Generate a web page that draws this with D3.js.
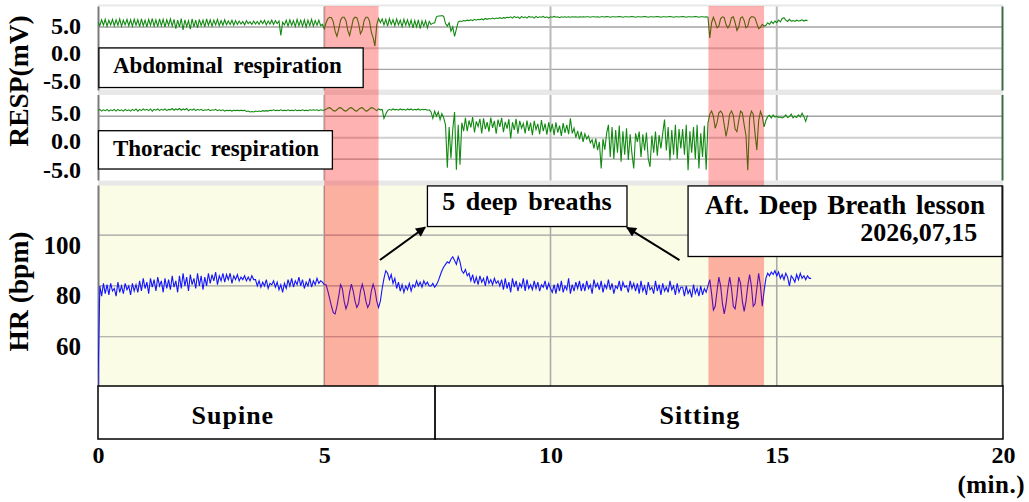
<!DOCTYPE html>
<html><head><meta charset="utf-8">
<script src="https://cdn.jsdelivr.net/npm/d3@7"></script>
<style>
html,body{margin:0;padding:0;background:#fff;font-family:"Liberation Serif";}
svg{display:block;font-family:"Liberation Serif";}
svg text{font-family:"Liberation Serif" !important;font-weight:bold;}
</style></head><body>
<svg id="chart" width="1029" height="502" font-family="Liberation Serif"></svg>
<script>
// ---------------- DATA ----------------
const STEP_MIN = 0.04; // sampling interval of the traces (minutes)

const hrValues = [
41,
80,76,81,77,80.5,76.5,81,78,79,76,81.5,77.5,80,77,81,78.5,80,76.5,81,78,80.5,77.5,
82,78,83,79,81.5,77,83,79.5,82.5,78,83.5,80,82,77.5,83,79,82.5,78.5,84,79.5,82,77.5,
84,79,85,80,83.5,78,84.5,80.5,83,79,85,80,84,78.5,83.5,80,
85,81,84.5,82,85.5,80.5,84,82,85,81.5,84.5,82.5,85,81,84,82.5,84.5,82,83.5,82.5,84,82,83.5,82,84,82.5,
82.5,80,82,79.5,81.5,80,82.5,79,81,80.5,82,79.5,81.5,78.5,80.5,77.5,
81,79,82.5,80,83,79.5,82,80.5,83.5,80,82.5,79,81.5,80,83,79.5,82,80.5,83,81,82,
81.5,
80.5,80.5,78,75,72,69.5,69,72,76,80.5,79,74,71,73,77.5,80.7,78,74,71.5,73,78,80.7,78,74,71.5,73,78,80.7,78.5,74,71.5,74,79,83,86,85,
82.5,84.5,81,83,
79,81.5,78,80.5,77.5,80,78.5,81,78,80.5,79.5,82,80,81.5,79.5,82,80.5,81.5,80,
80,81,79.5,80.5,
82,84,86,87.5,88.5,89.5,89,90.5,91.5,90,88.5,91.5,89.5,86,85,86.5,84,85,
82,84.5,81,83.5,80.5,84,81.5,83,80,84,81,82.5,80.5,83,81,82,80,
82.5,78.5,83,79,81.5,77.5,83,79.5,82,78,81,79.5,83,78,82.5,79,80.5,78.5,82,79,81.5,78,80.5,79.5,82,78.5,81,79,
77.5,80.5,77,81,78,82,77.5,80,78.5,83,77,80.5,78,81.5,79,82,78,
81,78,82,79,80.5,77,82.5,79.5,81,78.5,82,77.5,80.5,79,82.5,78.5,81,77,80,79,82,78,81.5,79.5,80,77.5,82,79,81,78,
81,77,82,78,80,76.5,81.5,78.5,79.5,77,82,78,80.5,76.5,81,78,79.5,77.5,82,78.5,80,76.5,81,77.5,79.5,
79.5,76,80,77,78.5,75.5,80.5,77,79,76,80,76.5,79,77.5,
80,82.5,77,70.5,72,78,83.5,80,73,69,73,79,83.5,79,72,71,76,83.5,81,74,70,74,80,84.5,80,72,73,79,85,80,72,78,
83,85,84,85.5,84.5,86,
84,85.5,83,84.5,82.5,85,83.5,80,84,83,81.5,84.5,82.5,85,83,84,82.5,84,83,83
];

const abdValues = [
6.2,5.3,6.7,5.4,6.8,5.2,6.6,5.5,6.8,5.3,6.7,5.4,6.9,5.2,6.6,5.5,6.8,5.3,6.7,5.2,6.8,
5.4,6.7,5.1,6.9,5.3,6.6,5.0,6.8,5.4,7.0,5.2,6.7,5.1,6.9,5.3,6.8,5.0,6.7,5.4,6.9,5.2,
6.8,4.6,6.6,5.0,7.0,4.3,6.7,5.1,6.5,4.5,6.9,5.0,6.6,4.8,
6.8,5.3,6.6,5.0,6.9,5.4,6.7,5.2,6.6,5.5,6.8,5.3,6.5,5.4,6.7,5.5,6.4,5.6,6.6,5.4,6.5,
5.6,6.4,5.7,6.3,5.5,6.5,5.8,6.2,5.6,6.4,5.7,6.3,5.6,6.5,5.8,6.6,5.5,6.4,5.7,6.6,5.6,6.5,5.8,6.4,
3.0,6.1,
5.5,6.6,5.2,6.7,5.4,6.5,5.1,6.8,5.3,6.6,5.2,6.7,5.0,6.6,5.3,6.8,5.2,6.5,5.4,6.6,5.3,5.6,
4.6,6.0,7.0,7.3,7.2,6.2,4.0,2.8,4.5,6.6,7.3,7.3,6.5,4.2,3.0,4.8,6.8,7.3,7.2,5.8,3.4,4.2,6.5,7.3,7.3,6.4,3.8,2.5,0.5,5.5,7.0,
6.0,6.9,5.5,6.8,5.2,7.0,5.6,6.7,5.3,6.9,5.5,6.6,5.1,6.8,5.4,6.7,5.2,6.6,4.8,6.5,5.0,6.7,4.6,6.4,5.2,6.5,4.8,6.3,
5.6,5.9,6.0,
7.4,7.6,7.6,7.7,7.5,5.8,5.2,6.0,4.0,5.0,2.8,4.5,6.2,6.4,
6.3,6.5,6.4,6.6,6.5,6.7,6.5,6.8,6.6,6.8,6.7,6.9,6.7,7.0,6.8,7.0,6.9,7.1,6.9,7.1,7.0,7.2,7.0,7.2,7.1,7.3,7.2,
7.4,7.1,7.5,7.2,7.4,7.0,7.5,7.2,7.4,7.1,7.5,7.3,7.4,7.1,7.5,7.2,7.4,7.3,7.5,7.2,
7.4,7.1,7.4,7.3,7.5,7.3,7.4,7.2,7.4,7.3,7.4,7.3,7.4,7.3,7.4,7.35,7.4,7.3,7.4,7.35,
7.4,7.35,7.4,7.4,7.3,7.4,7.4,7.35,7.4,7.3,7.4,7.4,7.35,7.45,7.4,7.3,7.4,7.4,7.35,7.4,
7.45,7.4,7.3,7.4,7.4,7.35,7.4,7.45,7.4,7.3,7.4,7.4,7.35,7.4,7.45,7.4,7.3,7.4,7.4,7.35,
7.4,7.45,7.4,7.3,7.4,7.4,7.35,7.4,7.45,7.4,7.3,7.4,7.4,7.35,7.4,7.45,7.4,7.3,7.4,7.4,
7.35,7.4,7.45,7.4,7.3,7.4,7.4,7.35,7.4,
7.3,2.4,6.0,7.3,6.2,4.8,5.2,7.0,7.4,7.2,5.5,4.8,5.5,7.2,7.4,6.0,4.2,5.0,7.1,7.4,6.5,4.8,5.2,7.0,7.4,7.4,7.1,5.8,4.6,4.9,5.6,5.2,
5.4,6.0,5.6,6.3,5.8,6.4,6.0,6.6,6.2,7.0,7.2,6.6,6.3,6.8,6.4,6.5,6.3,6.6,6.4,6.5,6.7,6.4,6.6,6.5
];

const thrValues = [
6.3,6.6,6.2,6.5,6.3,6.6,6.2,6.5,6.3,6.6,6.2,6.6,6.3,6.5,6.2,6.6,6.3,6.5,6.2,6.6,
6.3,6.7,6.2,6.6,6.3,6.7,6.4,6.6,6.3,6.7,6.2,6.6,6.4,6.7,6.3,6.6,6.4,6.7,6.3,6.6,
6.5,6.8,6.4,6.7,6.5,6.8,6.4,6.7,6.5,6.8,6.3,6.6,6.4,6.7,6.3,6.6,6.4,6.6,6.3,6.5,
6.4,6.6,6.3,6.5,6.4,6.6,6.3,6.5,6.3,6.5,6.2,6.4,6.3,6.4,6.2,6.4,6.3,6.4,6.3,6.4,
6.3,6.4,6.1,6.2,6.0,6.1,6.0,6.2,6.1,6.2,6.1,6.3,6.2,6.3,6.2,6.4,6.3,6.5,6.3,6.4,
6.3,6.5,6.3,6.4,6.3,6.5,6.3,6.4,6.3,6.5,6.3,6.4,6.3,6.5,6.3,6.4,6.3,6.5,6.4,6.5,
6.4,6.5,6.3,6.5,6.4,
6.4,6.6,6.9,7.0,6.7,6.3,6.2,6.5,6.9,7.0,6.7,6.3,6.2,6.5,6.9,7.0,6.7,6.3,6.2,6.6,6.9,7.0,6.6,6.2,6.3,6.7,7.0,6.9,6.6,6.3,6.7,
6.5,6.6,4.5,5.5,
6.3,6.6,6.4,6.7,6.5,6.6,6.4,6.7,6.5,6.6,6.4,6.7,6.5,6.7,6.4,6.6,6.5,6.7,6.4,6.6,6.5,6.6,6.4,6.5,
6.0,4.5,6.2,5.0,6.0,4.2,5.6,4.6,3.0,-7.0,2.5,-4.8,2.0,6.0,-7.5,3.0,-6.3,3.5,1.5,
4.6,1.5,4.0,2.4,4.8,1.2,3.8,2.6,4.4,1.0,4.5,2.0,3.6,1.4,4.7,2.3,3.9,0.9,4.2,2.5,4.6,1.3,3.7,2.1,
4.3,-0.2,3.6,1.8,4.4,0.9,3.9,2.2,3.3,1.0,4.0,1.6,3.5,0.6,3.9,1.9,3.2,0.8,4.1,1.5,3.3,0.7,3.6,1.3,
3.2,0.6,3.6,1.2,2.8,0.4,3.4,1.1,3.0,0.8,4.5,1.0,
2.2,0.0,1.6,-0.4,1.4,-1.0,0.9,-0.3,0.4,-1.2,
-0.5,-2.5,-0.2,-2.9,-1.0,-7.2,-0.3,-2.8,
1.0,3.0,-4.5,2.5,-5.0,1.8,-3.5,2.8,-5.6,1.5,-4.0,2.2,-5.2,0.8,-3.8,-7.2,1.0,
-1.0,1.4,-4.5,0.8,-3.0,1.2,-4.9,-6.8,0.5,-3.5,1.4,-4.2,0.6,-2.5,1.0,
4.2,-3.0,2.5,-5.3,1.8,-4.0,3.0,-5.0,2.0,-2.5,
2.0,-4.0,3.0,-7.6,1.5,-3.5,2.5,-5.0,3.0,-7.2,1.0,-4.5,2.8,-7.5,
3.4,5.5,6.2,5.0,2.2,3.5,5.8,6.2,5.6,3.0,0.3,2.5,5.5,6.2,5.2,2.0,1.4,4.0,6.2,5.8,3.0,0.5,-7.6,4.5,6.2,5.5,1.0,-2.9,4.0,6.1,5.0,2.5,
4.0,4.9,5.2,4.6,5.3,4.8,5.0,4.7,4.8,4.6,4.8,5.3,4.7,4.9,5.5,4.6,5.0,4.7,5.3,4.8,5.7,4.9,3.8,5.2
];

const xTicks = [0, 5, 10, 15, 20];
const gridMinutes = [5, 10, 15];
const respTicks = [5, 0, -5];
const hrTicks = [100, 80, 60];
const deepBreathBands = [[5.0, 6.2], [13.49, 14.72]];
const postures = [
  {label: "Supine",  from: 0,    to: 7.45, labelAt: 2.98},
  {label: "Sitting", from: 7.45, to: 20,   labelAt: 13.3}
];
const panelTitles = ["Abdominal respiration", "Thoracic respiration"];
const arrowNotes = [
  {from: [6.23, 90.2], to: [7.23, 103.1]},
  {from: [12.85, 90.2], to: [11.69, 103.0]}
];

// ---------------- LAYOUT ----------------
const svg = d3.select("#chart");
const X0 = 98, X1 = 1003;
const A = {top: 6.5, bot: 90.5};
const B = {top: 95, bot: 180.5};
const C = {top: 185.5, bot: 386};
const P = {top: 386, bot: 439};

const x = d3.scaleLinear().domain([0, 20]).range([X0, X1]);
const yAbd = d3.scaleLinear().domain([-10, 10]).range([90.5, 5.8]);
const yThr = d3.scaleLinear().domain([-10, 10]).range([180.5, 94.8]);
const yHr = d3.scaleLinear().domain([40, 120]).range([387.5, 184.4]);
const yAbdLab = d3.scaleLinear().domain([5, -5]).range([26, 80.5]);
const yThrLab = d3.scaleLinear().domain([5, -5]).range([113, 169.5]);
const yHrLab = d3.scaleLinear().domain([40, 120]).range([397.5, 194.4]);

const tOf = (d, i) => i * STEP_MIN;

function txt(sel) {
  return sel.attr("font-family", "Liberation Serif").attr("font-weight", "bold")
    .style("font-family", '"Liberation Serif"').attr("fill", "#000");
}

svg.append("rect").attr("x", X0).attr("y", 4.5).attr("width", X1 - X0).attr("height", C.bot - 4.5).attr("fill", "#e8e8e8");
svg.append("rect").attr("x", X0).attr("y", A.top).attr("width", X1 - X0).attr("height", A.bot - A.top - 1).attr("fill", "#fff");
svg.append("rect").attr("x", X0).attr("y", B.top).attr("width", X1 - X0).attr("height", B.bot - B.top).attr("fill", "#fff");
svg.append("rect").attr("x", X0).attr("y", C.top).attr("width", X1 - X0).attr("height", C.bot - C.top).attr("fill", "#fafce5");

const defs = svg.append("defs");
[["clipA", A], ["clipB", B], ["clipC", C]].forEach(([id, p]) => {
  defs.append("clipPath").attr("id", id).append("rect")
    .attr("x", X0).attr("y", p.top).attr("width", X1 - X0).attr("height", p.bot - p.top);
});
defs.append("marker").attr("id", "arrowHead").attr("viewBox", "0 0 10 10")
  .attr("refX", 9).attr("refY", 5).attr("markerWidth", 6).attr("markerHeight", 5)
  .attr("markerUnits", "strokeWidth").attr("orient", "auto")
  .append("path").attr("d", "M0,0 L10,5 L0,10 z").attr("fill", "#000");

const grid = svg.append("g");
[[yAbd, A], [yThr, B]].forEach(([ys, p]) => {
  respTicks.forEach(v => {
    grid.append("line").attr("x1", X0).attr("x2", X1).attr("y1", ys(v)).attr("y2", ys(v))
      .attr("stroke", v === 0 ? "#cfcfcf" : "#a3a3a3").attr("stroke-width", v === 0 ? 2 : 1.3);
  });
  gridMinutes.forEach(m => {
    grid.append("line").attr("x1", x(m)).attr("x2", x(m)).attr("y1", p.top).attr("y2", p.bot)
      .attr("stroke", "#b9b9b9").attr("stroke-width", 2);
  });
});
hrTicks.forEach(v => {
  grid.append("line").attr("x1", X0).attr("x2", X1).attr("y1", yHr(v)).attr("y2", yHr(v))
    .attr("stroke", "#a0a0a0").attr("stroke-width", 1.2);
});
gridMinutes.forEach(m => {
  grid.append("line").attr("x1", x(m)).attr("x2", x(m)).attr("y1", C.top).attr("y2", C.bot)
    .attr("stroke", "#aaaaaa").attr("stroke-width", 1.6);
});

const frame = svg.append("g");
[[A, "#3d6b49"], [B, "#3d6b49"], [C, "#3a3a3a"]].forEach(([p, rc]) => {
  frame.append("line").attr("x1", X0 + 0.5).attr("x2", X0 + 0.5).attr("y1", p.top).attr("y2", p.bot)
    .attr("stroke", "#7a7a7a").attr("stroke-width", 2);
  frame.append("line").attr("x1", X1 - 0.5).attr("x2", X1 - 0.5).attr("y1", p.top).attr("y2", p.bot)
    .attr("stroke", rc).attr("stroke-width", 2);
});

const lineAbd = d3.line().x((d, i) => x(tOf(d, i))).y(d => yAbd(d));
const lineThr = d3.line().x((d, i) => x(tOf(d, i))).y(d => yThr(d));
const lineHr = d3.line().x((d, i) => x(tOf(d, i))).y(d => yHr(d));
svg.append("path").datum(abdValues).attr("clip-path", "url(#clipA)").attr("d", lineAbd)
  .attr("fill", "none").attr("stroke", "#128a12").attr("stroke-width", 1.1);
svg.append("path").datum(thrValues).attr("clip-path", "url(#clipB)").attr("d", lineThr)
  .attr("fill", "none").attr("stroke", "#128a12").attr("stroke-width", 1.1);
svg.append("path").datum(hrValues).attr("clip-path", "url(#clipC)").attr("d", lineHr)
  .attr("fill", "none").attr("stroke", "#1414ff").attr("stroke-width", 1.1);

svg.append("g").selectAll("rect").data(deepBreathBands).join("rect")
  .attr("x", d => x(d[0])).attr("width", d => x(d[1]) - x(d[0]))
  .attr("y", A.top - 0.5).attr("height", C.bot - A.top + 0.5)
  .attr("fill", "rgba(255,0,0,0.3)");

function box(x0, y0, x1, y1) {
  svg.append("rect").attr("x", x0).attr("y", y0).attr("width", x1 - x0).attr("height", y1 - y0)
    .attr("fill", "#fff").attr("stroke", "#000").attr("stroke-width", 1.3);
}
box(x(0.02), yAbd(0.05), x(5.86), yAbd(-9.3));
txt(svg.append("text")).attr("x", x(0.33)).attr("y", yAbd(-5.8)).attr("font-size", 23)
  .attr("word-spacing", 5).text(panelTitles[0]);
box(x(0.01), yThr(1.62), x(5.18), yThr(-7.32));
txt(svg.append("text")).attr("x", x(0.33)).attr("y", yThr(-4.21)).attr("font-size", 23)
  .attr("word-spacing", 4).text(panelTitles[1]);

box(x(7.28), yHr(119.4), x(11.69), yHr(103.4));
txt(svg.append("text")).attr("x", x(9.48)).attr("y", yHr(109.9)).attr("font-size", 26)
  .attr("text-anchor", "middle").attr("word-spacing", 4).text("5 deep breaths");
box(x(13.04), yHr(119.4), x(19.98), yHr(91.6));
txt(svg.append("text")).attr("x", x(16.51)).attr("y", yHr(108.4)).attr("font-size", 27)
  .attr("text-anchor", "middle").attr("word-spacing", 3).text("Aft. Deep Breath lesson");
txt(svg.append("text")).attr("x", x(19.43)).attr("y", yHr(97.7)).attr("font-size", 26)
  .attr("text-anchor", "end").text("2026,07,15");

svg.append("g").selectAll("line").data(arrowNotes).join("line")
  .attr("x1", d => x(d.from[0])).attr("y1", d => yHr(d.from[1]))
  .attr("x2", d => x(d.to[0])).attr("y2", d => yHr(d.to[1]))
  .attr("stroke", "#000").attr("stroke-width", 2).attr("marker-end", "url(#arrowHead)");

const pg = svg.append("g");
pg.selectAll("rect").data(postures).join("rect")
  .attr("x", d => x(d.from)).attr("width", d => x(d.to) - x(d.from))
  .attr("y", P.top).attr("height", P.bot - P.top)
  .attr("fill", "#fff").attr("stroke", "#000").attr("stroke-width", 1.5);
txt(pg.selectAll("text").data(postures).join("text"))
  .attr("x", d => x(d.labelAt)).attr("y", 424).attr("text-anchor", "middle")
  .attr("font-size", 26).attr("letter-spacing", 1).text(d => d.label);

function styleAxis(g, size) {
  g.select(".domain").remove();
  g.selectAll("line").remove();
  g.attr("font-family", "Liberation Serif").attr("font-size", size);
  txt(g.selectAll("text")).attr("font-size", size);
}
svg.append("g").attr("transform", `translate(0,${P.bot})`)
  .call(d3.axisBottom(x).tickValues(xTicks).tickSize(0).tickPadding(7).tickFormat(d3.format("d")))
  .call(g => styleAxis(g, 24));
txt(svg.append("text")).attr("x", 1025).attr("y", 493).attr("text-anchor", "end").attr("font-size", 25)
  .attr("letter-spacing", 0.5).text("(min.)");

const fmt1 = d => d.toFixed(1);
svg.append("g").attr("transform", "translate(81,0)")
  .call(d3.axisLeft(yAbdLab).tickValues(respTicks).tickSize(0).tickPadding(0).tickFormat(fmt1))
  .call(g => styleAxis(g, 24));
svg.append("g").attr("transform", "translate(81,0)")
  .call(d3.axisLeft(yThrLab).tickValues(respTicks).tickSize(0).tickPadding(0).tickFormat(fmt1))
  .call(g => styleAxis(g, 24));
svg.append("g").attr("transform", "translate(81,0)")
  .call(d3.axisLeft(yHrLab).tickValues(hrTicks).tickSize(0).tickPadding(0).tickFormat(d3.format("d")))
  .call(g => styleAxis(g, 25));

txt(svg.append("text")).attr("transform", "translate(28,81) rotate(-90)").attr("text-anchor", "middle")
  .attr("font-size", 27.5).text("RESP(mV)");
txt(svg.append("text")).attr("transform", "translate(27.5,291.5) rotate(-90)").attr("text-anchor", "middle")
  .attr("font-size", 27.5).text("HR (bpm)");
</script>
</body></html>
